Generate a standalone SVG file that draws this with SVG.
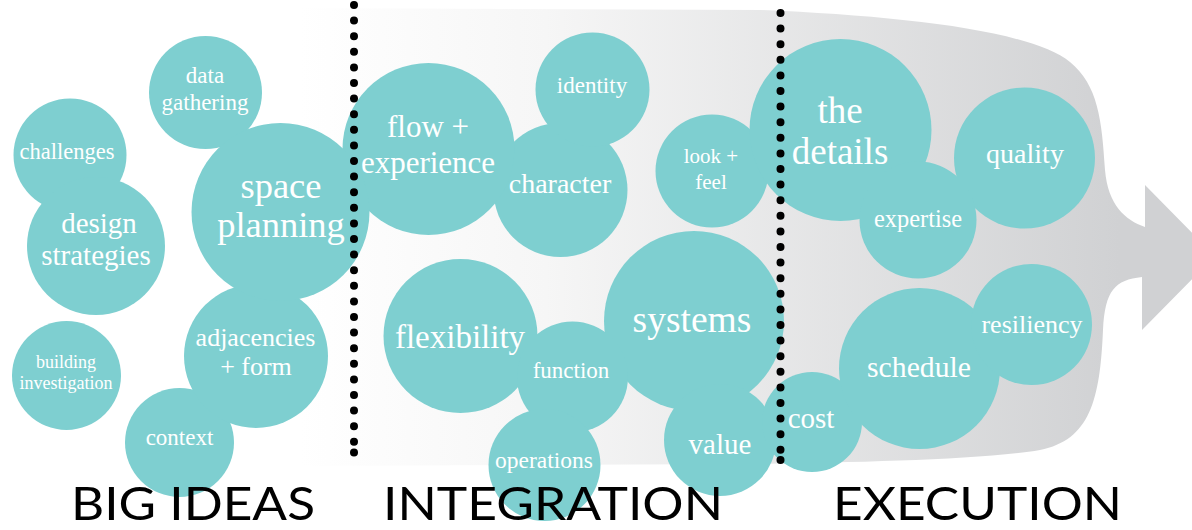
<svg xmlns="http://www.w3.org/2000/svg" width="1192" height="530" viewBox="0 0 1192 530">
<defs>
<linearGradient id="bg" gradientUnits="userSpaceOnUse" x1="300" y1="0" x2="1120" y2="0">
<stop offset="0" stop-color="#ffffff"/>
<stop offset="0.3" stop-color="#f6f6f6"/>
<stop offset="1" stop-color="#d0d1d3"/>
</linearGradient>
</defs>
<style>
.n circle{fill:#7ecfd0}
.n text{fill:#ffffff;font-family:"Liberation Serif","Times New Roman",serif;text-anchor:middle}
.dots{stroke:#000;stroke-width:8;stroke-linecap:round;stroke-dasharray:0 15.6;fill:none}
.lab{font-family:Lato,"Liberation Sans",Arial,sans-serif;font-weight:400;font-size:46px;fill:#000}
</style>
<path id="arrow" d="M 290 8 L 760 10 C 900 16 1030 30 1070 62 C 1098 85 1102 120 1105 170 C 1108 205 1125 220 1145 227 L 1145 185 L 1215 256 L 1142 330 L 1142 277 C 1115 280 1105 290 1103 330 C 1100 400 1090 440 1040 450 C 980 460 860 462 760 464 L 290 466 Z" fill="url(#bg)"/>
<g id="challenges" class="n"><circle cx="70" cy="155" r="56.5"/><text x="67" y="159" font-size="22.5">challenges</text></g>
<g id="design-strategies" class="n"><circle cx="96" cy="246" r="69"/><text x="99" y="233" font-size="29">design</text><text x="96" y="265" font-size="29">strategies</text></g>
<g id="data-gathering" class="n"><circle cx="205.5" cy="92.5" r="56.5"/><text x="205" y="83" font-size="23">data</text><text x="205" y="110" font-size="23">gathering</text></g>
<g id="building-investigation" class="n"><circle cx="66.5" cy="375.5" r="54.5"/><text x="66" y="368" font-size="18">building</text><text x="66" y="389" font-size="18">investigation</text></g>
<g id="context" class="n"><circle cx="179.5" cy="442.5" r="54.5"/><text x="179.5" y="445" font-size="23">context</text></g>
<g id="adjacencies-form" class="n"><circle cx="256" cy="356" r="72"/><text x="255.5" y="346" font-size="26">adjacencies</text><text x="256" y="375" font-size="26">+ form</text></g>
<g id="character" class="n"><circle cx="560.5" cy="190" r="67"/><text x="560" y="193" font-size="28">character</text></g>
<g id="identity" class="n"><circle cx="592.5" cy="89.5" r="57"/><text x="592" y="93" font-size="23">identity</text></g>
<g id="flow-experience" class="n"><circle cx="428.5" cy="149" r="86"/><text x="428" y="137" font-size="31">flow +</text><text x="428" y="173" font-size="31">experience</text></g>
<g id="space-planning" class="n"><circle cx="280.5" cy="212" r="89"/><text x="281" y="198" font-size="36.5">space</text><text x="281" y="237" font-size="36.5">planning</text></g>
<g id="flexibility" class="n"><circle cx="460.5" cy="336" r="77"/><text x="460" y="348" font-size="33">flexibility</text></g>
<g id="systems" class="n"><circle cx="694" cy="321" r="90"/><text x="692" y="332" font-size="37.5">systems</text></g>
<g id="function" class="n"><circle cx="572.5" cy="377" r="55.5"/><text x="571" y="378" font-size="23">function</text></g>
<g id="operations" class="n"><circle cx="544.5" cy="465" r="56"/><text x="544" y="468" font-size="23.5">operations</text></g>
<g id="value" class="n"><circle cx="720" cy="440" r="56"/><text x="720" y="454" font-size="29">value</text></g>
<g id="look-feel" class="n"><circle cx="712" cy="171" r="56.5"/><text x="711" y="163" font-size="21">look +</text><text x="711" y="189" font-size="21">feel</text></g>
<g id="quality" class="n"><circle cx="1024.5" cy="158" r="70.5"/><text x="1025" y="163" font-size="28">quality</text></g>
<g id="the-details" class="n"><circle cx="840.5" cy="130" r="91"/><text x="840" y="123" font-size="37">the</text><text x="840" y="164" font-size="37">details</text></g>
<g id="expertise" class="n"><circle cx="918" cy="220" r="58.5"/><text x="918" y="227" font-size="24.4">expertise</text></g>
<g id="cost" class="n"><circle cx="812" cy="422" r="50"/><text x="811" y="428" font-size="29">cost</text></g>
<g id="schedule" class="n"><circle cx="919.5" cy="368.5" r="80.5"/><text x="919" y="377" font-size="29.7">schedule</text></g>
<g id="resiliency" class="n"><circle cx="1031.5" cy="324.5" r="60.5"/><text x="1032" y="333" font-size="26">resiliency</text></g>
<g id="connectors">
<line class="dots" x1="354" y1="5" x2="354" y2="445"/>
<circle cx="354" cy="452.5" r="4"/>
<line class="dots" x1="780.5" y1="13" x2="780.5" y2="452"/>
<circle cx="780.5" cy="460" r="4"/>
</g>
<g id="labels">
<text class="lab" x="71" y="520" textLength="244" lengthAdjust="spacingAndGlyphs">BIG IDEAS</text>
<text class="lab" x="383" y="520" textLength="340" lengthAdjust="spacingAndGlyphs">INTEGRATION</text>
<text class="lab" x="833" y="520" textLength="289" lengthAdjust="spacingAndGlyphs">EXECUTION</text>
</g>
</svg>
